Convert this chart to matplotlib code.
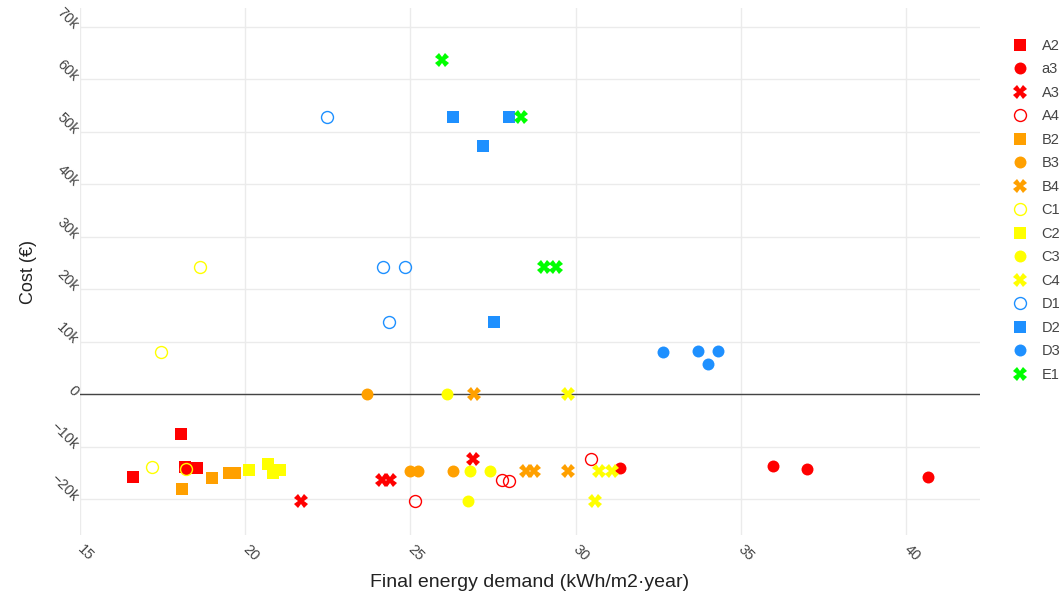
import matplotlib

matplotlib.use("Agg")

import matplotlib.pyplot as plt  # noqa: E402
from matplotlib.ticker import FuncFormatter  # noqa: E402

plt.rcParams["font.family"] = ["Liberation Sans", "DejaVu Sans"]

# ---------------------------------------------------------------------------
# Data (x = final energy demand, y = cost in EUR)
# ---------------------------------------------------------------------------
a2_x = [18.07, 16.59, 18.19, 18.55]
a2_y = [-7500, -15700, -13800, -14000]

a3c_x = [18.2, 31.33, 35.98, 37.0, 40.66]
a3c_y = [-14200, -14000, -13700, -14300, -15700]

a3_x = [21.7, 24.14, 24.38, 26.9]
a3_y = [-20300, -16300, -16300, -12400]

a4_x = [25.14, 27.77, 27.98, 30.47]
a4_y = [-20300, -16300, -16600, -12400]

b2_x = [18.1, 19.0, 19.52, 19.7]
b2_y = [-18000, -15900, -15000, -15000]

b3_x = [23.69, 24.99, 25.23, 26.3]
b3_y = [0, -14700, -14700, -14700]

b4_x = [26.92, 28.5, 28.74, 29.76]
b4_y = [0, -14700, -14700, -14700]

c1_x = [17.19, 18.2, 18.62, 17.46]
c1_y = [-13800, -14200, 24300, 8000]

c2_x = [20.12, 20.7, 20.85, 21.06]
c2_y = [-14500, -13200, -15000, -14500]

c3_x = [26.1, 26.8, 27.4, 26.74]
c3_y = [0, -14700, -14700, -20300]

c4_x = [29.76, 30.7, 31.1, 30.58]
c4_y = [0, -14700, -14700, -20300]

d1_x = [22.48, 24.17, 24.83, 24.35]
d1_y = [52800, 24300, 24300, 13800]

d2_x = [26.28, 27.98, 27.19, 27.52]
d2_y = [52800, 52800, 47400, 13800]

d3_x = [32.65, 33.7, 34.3, 34.0]
d3_y = [8000, 8200, 8200, 5700]

e1_x = [25.95, 28.34, 29.04, 29.4]
e1_y = [63700, 52800, 24300, 24300]

y_ticks = [-20000, -10000, 0, 10000, 20000, 30000, 40000, 50000, 60000, 70000]
x_ticks = [15, 20, 25, 30, 35, 40]

RED = "#FF0000"
ORANGE = "#FFA000"
YELLOW = "#FFFF00"
BLUE = "#1E90FF"
GREEN = "#00FF00"

# (label, xs, ys, color, marker, filled)
series = [
    ("A2", a2_x, a2_y, RED, "s", True),
    ("a3", a3c_x, a3c_y, RED, "o", True),
    ("A3", a3_x, a3_y, RED, "X", True),
    ("A4", a4_x, a4_y, RED, "o", False),
    ("B2", b2_x, b2_y, ORANGE, "s", True),
    ("B3", b3_x, b3_y, ORANGE, "o", True),
    ("B4", b4_x, b4_y, ORANGE, "X", True),
    ("C1", c1_x, c1_y, YELLOW, "o", False),
    ("C2", c2_x, c2_y, YELLOW, "s", True),
    ("C3", c3_x, c3_y, YELLOW, "o", True),
    ("C4", c4_x, c4_y, YELLOW, "X", True),
    ("D1", d1_x, d1_y, BLUE, "o", False),
    ("D2", d2_x, d2_y, BLUE, "s", True),
    ("D3", d3_x, d3_y, BLUE, "o", True),
    ("E1", e1_x, e1_y, GREEN, "X", True),
]

fig = plt.figure(figsize=(10.64, 5.94), dpi=100)
ax = fig.add_axes([80 / 1064, 1 - 535 / 594, 900 / 1064, 527 / 594])

for label, xs, ys, color, marker, filled in series:
    size = 8.6 if marker != "X" else 9.6
    if filled:
        ax.plot(xs, ys, linestyle="none", marker=marker, markersize=size,
                markerfacecolor=color, markeredgecolor=color,
                markeredgewidth=0, label=label, zorder=3)
    else:
        ax.plot(xs, ys, linestyle="none", marker=marker, markersize=size,
                markerfacecolor="none", markeredgecolor=color,
                markeredgewidth=1.0, label=label, zorder=3)

ax.set_xlim(15.05, 42.24)
ax.set_ylim(-26800, 73600)
ax.set_xticks(x_ticks)
ax.set_yticks(y_ticks)


def _k(v, _pos):
    if v == 0:
        return "0"
    return f"{v / 1000:.0f}k".replace("-", "\u2212")


ax.yaxis.set_major_formatter(FuncFormatter(_k))
ax.grid(True, color="#EBEBEB", linewidth=1.0, zorder=0)
ax.axhline(0, color="#444444", linewidth=1.0, zorder=2)
for spine in ax.spines.values():
    spine.set_visible(False)
ax.tick_params(length=0, colors="#444444", labelsize=10.5)
for t in ax.get_yticklabels():
    t.set_rotation(-45)
    t.set_rotation_mode("anchor")
    t.set_ha("right")
    t.set_va("center")
for t in ax.get_xticklabels():
    t.set_rotation(-45)
    t.set_rotation_mode("anchor")
    t.set_ha("left")
    t.set_va("center")
ax.tick_params(axis="y", pad=3)
ax.tick_params(axis="x", pad=9)

ax.set_xlabel("Final energy demand (kWh/m2\u00b7year)", fontsize=14,
              color="#222222", labelpad=7)
ax.set_ylabel("Cost (\u20ac)", fontsize=13, color="#222222", labelpad=8)

leg = ax.legend(loc="upper left", bbox_to_anchor=(1011 / 1064, 1 - 39 / 594),
                bbox_transform=fig.transFigure, frameon=False, fontsize=10.5,
                labelspacing=0.65, handletextpad=0.9, handlelength=1.2,
                borderaxespad=0, borderpad=0)
for text in leg.get_texts():
    text.set_color("#444444")

fig.savefig("out.png", dpi=100)
plt.close(fig)
